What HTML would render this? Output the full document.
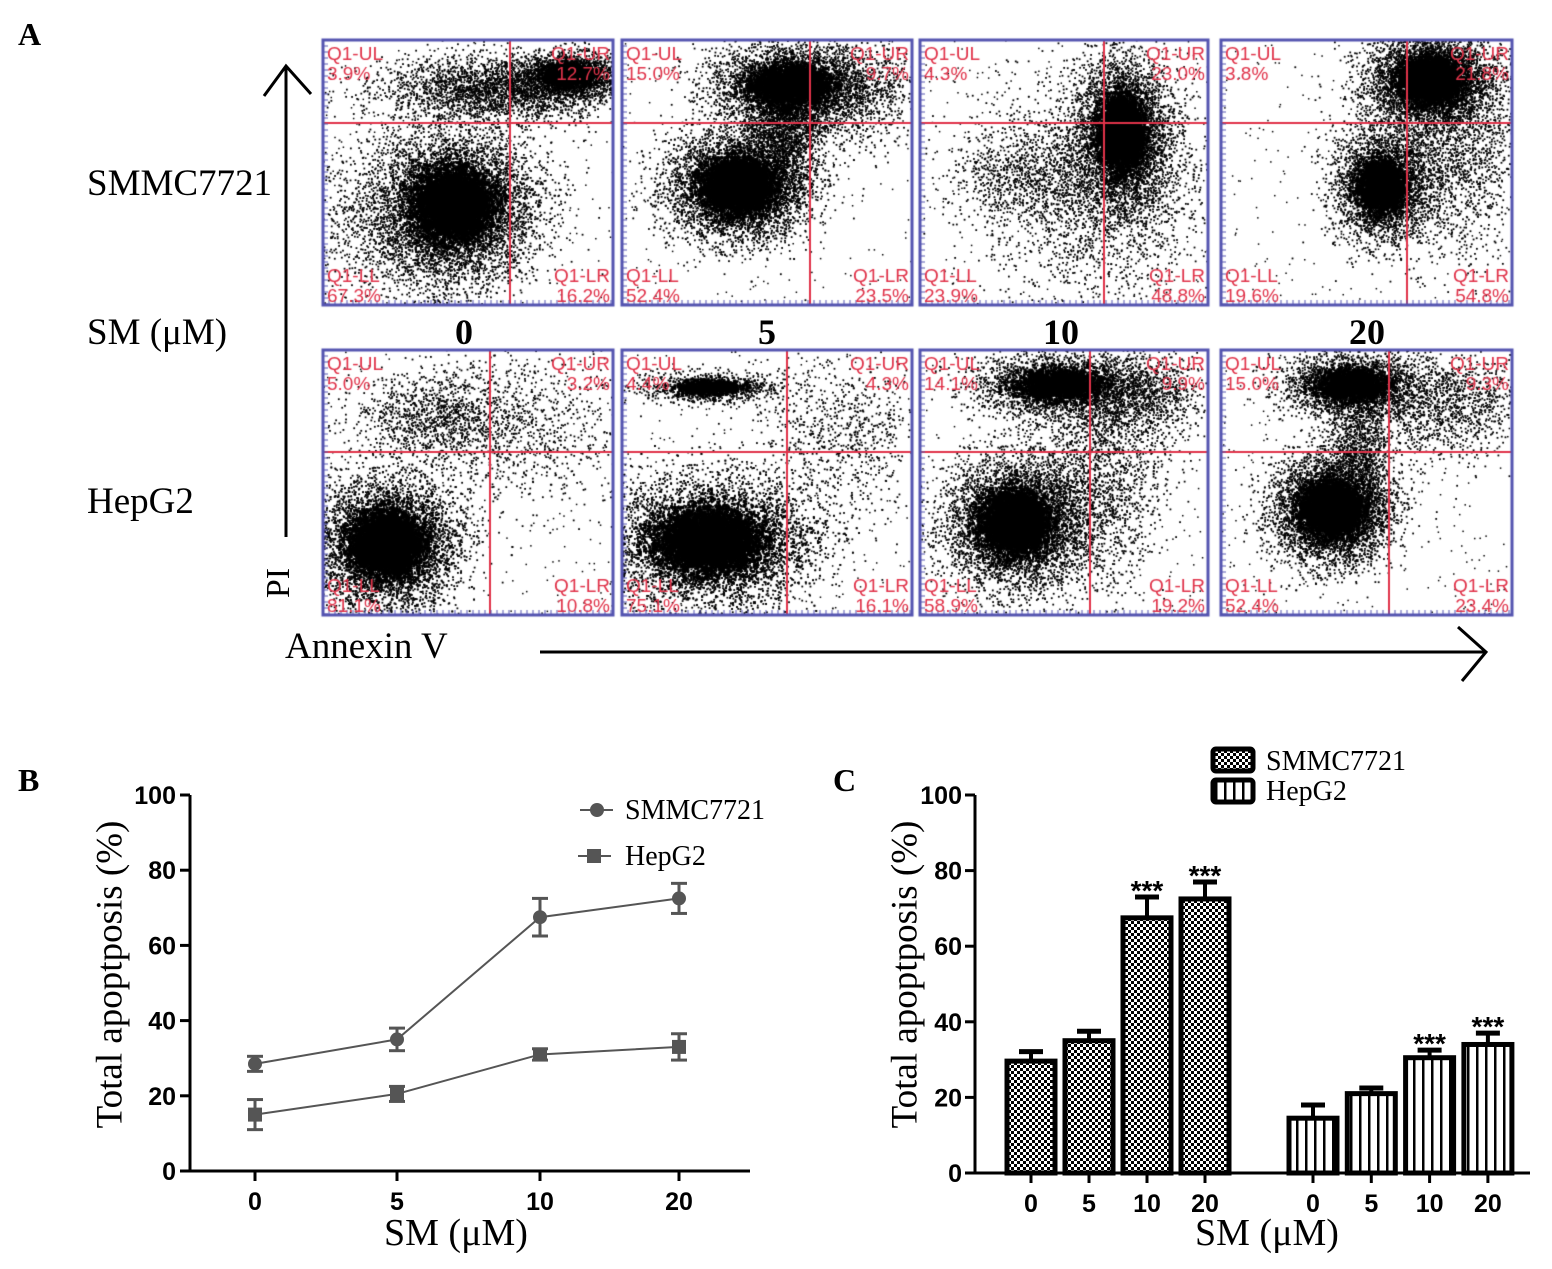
<!DOCTYPE html>
<html><head><meta charset="utf-8">
<style>
body{margin:0;background:#fff;width:1552px;height:1269px;overflow:hidden;position:relative;font-family:"Liberation Serif",serif}
.t{position:absolute;white-space:nowrap;color:#000}
canvas{position:absolute;left:0;top:0}
svg{position:absolute;left:0;top:0}
</style></head><body>
<canvas id="flow" width="1552" height="700"></canvas>
<div class="t" style="left:18px;top:16px;font-size:32px;font-weight:bold">A</div>
<div class="t" style="left:87px;top:162px;font-size:37px">SMMC7721</div>
<div class="t" style="left:87px;top:311px;font-size:37px">SM (μM)</div>
<div class="t" style="left:87px;top:480px;font-size:37px">HepG2</div>
<div class="t" style="left:455px;top:311px;font-size:36px;font-weight:bold">0</div>
<div class="t" style="left:758px;top:311px;font-size:36px;font-weight:bold">5</div>
<div class="t" style="left:1043px;top:311px;font-size:36px;font-weight:bold">10</div>
<div class="t" style="left:1349px;top:311px;font-size:36px;font-weight:bold">20</div>
<div class="t" style="left:264px;top:564px;font-size:34px;transform:rotate(-90deg);transform-origin:center">PI</div>
<div class="t" style="left:285px;top:625px;font-size:37px">Annexin V</div>
<svg width="1552" height="1269">
<g stroke="#000" stroke-width="3" fill="none">
<line x1="286" y1="66" x2="286" y2="537"/><polyline points="264,96 286,66 311,94"/>
<line x1="540" y1="652" x2="1484" y2="652"/><polyline points="1458,627 1486,652 1462,681"/>
</g>
<g id="chartB"></g>
<g id="chartC"></g>
<defs>
<pattern id="chk" width="6" height="6" patternUnits="userSpaceOnUse"><rect width="6" height="6" fill="#fff"/><rect width="3" height="3" fill="#000"/><rect x="3" y="3" width="3" height="3" fill="#000"/></pattern>
<pattern id="vstr" width="9" height="10" patternUnits="userSpaceOnUse"><rect width="9" height="10" fill="#fff"/><rect width="2.5" height="10" fill="#000"/></pattern>
</defs>
</svg>
<div class="t" style="left:18px;top:762px;font-size:32px;font-weight:bold">B</div>
<div class="t" style="left:833px;top:762px;font-size:32px;font-weight:bold">C</div>
<div class="t" style="left:-90px;top:953px;width:400px;text-align:center;font-size:37px;transform:rotate(-90deg)">Total apoptposis (%)</div>
<div class="t" style="left:705px;top:953px;width:400px;text-align:center;font-size:37px;transform:rotate(-90deg)">Total apoptposis (%)</div>
<div class="t" style="left:384px;top:1211px;font-size:38px">SM (μM)</div>
<div class="t" style="left:1195px;top:1211px;font-size:38px">SM (μM)</div>
<script>
// ---------- Flow plots ----------
const cv=document.getElementById('flow'),ctx=cv.getContext('2d');
let seed=12345;function rnd(){seed=(seed*1103515245+12345)%2147483648;return seed/2147483648;}
function gauss(){let u=rnd()||1e-6,v=rnd();return Math.sqrt(-2*Math.log(u))*Math.cos(2*Math.PI*v);}
const plotsX=[[323,613],[622,912],[920,1208],[1221,1512]];
const plotsY=[[40,305],[350,615]];
const hLine=[123,452];
const vLine=[[510,810,1104,1407],[490,787,1090,1389]];
const quadUL=[["3.9%","15.0%","4.3%","3.8%"],["5.0%","4.4%","14.1%","15.0%"]];
const quadUR=[["12.7%","9.7%","23.0%","21.8%"],["3.2%","4.3%","9.9%","9.3%"]];
const quadLL=[["67.3%","52.4%","23.9%","19.6%"],["81.1%","75.1%","58.9%","52.4%"]];
const quadLR=[["16.2%","23.5%","48.8%","54.8%"],["10.8%","16.1%","19.2%","23.4%"]];
const clusters=[
[[[0.45,0.62,0.14,0.14,6000,1],[0.62,0.18,0.2,0.06,3000,0],[0.85,0.13,0.08,0.04,2000,1],[0.3,0.7,0.2,0.15,1500,0]],
 [[0.4,0.55,0.12,0.1,6000,1],[0.58,0.17,0.14,0.08,3500,1],[0.55,0.35,0.06,0.1,1500,0],[0.75,0.2,0.15,0.1,1200,0]],
 [[0.7,0.35,0.08,0.14,4500,1],[0.6,0.55,0.2,0.2,2500,0],[0.35,0.5,0.12,0.08,600,0]],
 [[0.72,0.15,0.1,0.08,5000,1],[0.55,0.55,0.08,0.1,3000,1],[0.75,0.4,0.15,0.2,2500,0]]],
[[[0.22,0.73,0.12,0.12,6500,1],[0.4,0.25,0.15,0.08,1200,0],[0.7,0.3,0.2,0.15,800,0]],
 [[0.3,0.72,0.18,0.12,7000,1],[0.3,0.14,0.12,0.03,900,1],[0.75,0.3,0.15,0.15,800,0]],
 [[0.33,0.65,0.12,0.12,5500,1],[0.48,0.13,0.15,0.06,2500,1],[0.6,0.5,0.12,0.2,1800,0],[0.75,0.17,0.12,0.08,1200,0]],
 [[0.38,0.6,0.1,0.1,5500,1],[0.45,0.13,0.12,0.06,2500,1],[0.47,0.38,0.05,0.12,1000,0],[0.75,0.2,0.15,0.1,1400,0]]]];
for(let r=0;r<2;r++)for(let c=0;c<4;c++){
 const [x0,x1]=plotsX[c],[y0,y1]=plotsY[r],w=x1-x0,h=y1-y0;
 ctx.save();ctx.beginPath();ctx.rect(x0,y0,w,h);ctx.clip();
 ctx.fillStyle='#000';
 for(const [cx,cy,sx,sy,n,core] of clusters[r][c]){
   for(let i=0;i<n;i++){const px=x0+(cx+gauss()*sx)*w,py=y0+(cy+gauss()*sy)*h;ctx.fillRect(px,py,1.8,1.8);}
   if(core){for(let i=0;i<n*0.6;i++){const px=x0+(cx+gauss()*sx*0.45)*w,py=y0+(cy+gauss()*sy*0.45)*h;ctx.fillRect(px-1,py-1,3,3);}}
 }
 for(let i=0;i<250;i++)ctx.fillRect(x0+rnd()*w,y0+rnd()*h,1.5,1.5);
 ctx.restore();
 ctx.strokeStyle='#e0334a';ctx.lineWidth=2;
 ctx.beginPath();ctx.moveTo(x0,hLine[r]);ctx.lineTo(x1,hLine[r]);ctx.moveTo(vLine[r][c],y0);ctx.lineTo(vLine[r][c],y1);ctx.stroke();
 ctx.strokeStyle='#5555b0';ctx.lineWidth=3;ctx.strokeRect(x0,y0,w,h);
 ctx.lineWidth=1;ctx.beginPath();for(let k=0;k<w;k+=6){ctx.moveTo(x0+k,y1);ctx.lineTo(x0+k,y1-5);}for(let k=0;k<h;k+=6){ctx.moveTo(x0,y0+k);ctx.lineTo(x0+5,y0+k);}ctx.stroke();
 ctx.fillStyle='#e0334a';ctx.font='19px "Liberation Sans",sans-serif';
 ctx.textAlign='left';ctx.fillText('Q1-UL',x0+4,y0+20);ctx.fillText(quadUL[r][c],x0+4,y0+40);
 ctx.fillText('Q1-LL',x0+4,y1-23);ctx.fillText(quadLL[r][c],x0+4,y1-3);
 ctx.textAlign='right';ctx.fillText('Q1-UR',x1-3,y0+20);ctx.fillText(quadUR[r][c],x1-3,y0+40);
 ctx.fillText('Q1-LR',x1-3,y1-23);ctx.fillText(quadLR[r][c],x1-3,y1-3);
}
// ---------- Charts ----------
const NS='http://www.w3.org/2000/svg';
function el(tag,attrs,parent){const e=document.createElementNS(NS,tag);for(const k in attrs)e.setAttribute(k,attrs[k]);parent.appendChild(e);return e;}
const doses=["0","5","10","20"];
const yTicks=[0,20,40,60,80,100];
const smmcMean=[28.5,35,67.5,72.5];
const smmcErr=[2,3,5,4];
const hepMean=[15,20.5,31,33];
const hepErr=[4,2,1.5,3.5];
const barSmmc=[29.6,35,67.5,72.5];
const barSmmcErr=[2.5,2.5,5.5,4.5];
const barHep=[14.5,21,30.5,34];
const barHepErr=[3.5,1.5,2,3];
const yB=v=>1171-v*3.76;
const xB=i=>[255,397,540,679][i];
const gB=document.getElementById('chartB');
el('line',{x1:190,y1:yB(100),x2:190,y2:yB(0)+1,stroke:'#000','stroke-width':3},gB);
el('line',{x1:189,y1:yB(0),x2:750,y2:yB(0),stroke:'#000','stroke-width':3},gB);
yTicks.forEach(v=>{el('line',{x1:180,y1:yB(v),x2:190,y2:yB(v),stroke:'#000','stroke-width':3},gB);
 const t=el('text',{x:176,y:yB(v)+9,'text-anchor':'end','font-family':'Liberation Sans,sans-serif','font-weight':'bold','font-size':25},gB);t.textContent=v;
 });
doses.forEach((d,i)=>{el('line',{x1:xB(i),y1:yB(0),x2:xB(i),y2:yB(0)+10,stroke:'#000','stroke-width':3},gB);
 const t=el('text',{x:xB(i),y:yB(0)+39,'text-anchor':'middle','font-family':'Liberation Sans,sans-serif','font-weight':'bold','font-size':25},gB);t.textContent=d;
 });
function series(mean,err,shape,name){
 const pts=mean.map((v,i)=>xB(i)+','+yB(v)).join(' ');
 const pl=el('polyline',{points:pts,fill:'none',stroke:'#555','stroke-width':2},gB);
 mean.forEach((v,i)=>{const x=xB(i);
  el('line',{x1:x,y1:yB(v-err[i]),x2:x,y2:yB(v+err[i]),stroke:'#555','stroke-width':3},gB);
  el('line',{x1:x-8,y1:yB(v+err[i]),x2:x+8,y2:yB(v+err[i]),stroke:'#555','stroke-width':3},gB);
  el('line',{x1:x-8,y1:yB(v-err[i]),x2:x+8,y2:yB(v-err[i]),stroke:'#555','stroke-width':3},gB);
  const m=shape==='c'?el('circle',{cx:x,cy:yB(v),r:7,fill:'#555'},gB):el('rect',{x:x-7,y:yB(v)-7,width:14,height:14,fill:'#555'},gB);
  });
}
series(smmcMean,smmcErr,'c','smmc7721');
series(hepMean,hepErr,'s','hepg2');
el('line',{x1:580,y1:810,x2:613,y2:810,stroke:'#555','stroke-width':2},gB);el('circle',{cx:597,cy:810,r:7,fill:'#555'},gB);
let lt=el('text',{x:625,y:819,'font-family':'Liberation Serif,serif','font-size':28},gB);lt.textContent='SMMC7721';
el('line',{x1:578,y1:856,x2:611,y2:856,stroke:'#555','stroke-width':2},gB);el('rect',{x:587,y:849,width:14,height:14,fill:'#555'},gB);
lt=el('text',{x:625,y:865,'font-family':'Liberation Serif,serif','font-size':28},gB);lt.textContent='HepG2';
// Chart C
const yC=v=>1173-v*3.78;
const xS=i=>1031+i*58, xH=i=>1313+i*58.3;
const gC=document.getElementById('chartC');
el('line',{x1:975,y1:yC(100),x2:975,y2:yC(0)+1,stroke:'#000','stroke-width':3},gC);
el('line',{x1:974,y1:yC(0),x2:1530,y2:yC(0),stroke:'#000','stroke-width':3},gC);
yTicks.forEach(v=>{el('line',{x1:965,y1:yC(v),x2:975,y2:yC(v),stroke:'#000','stroke-width':3},gC);
 const t=el('text',{x:962,y:yC(v)+9,'text-anchor':'end','font-family':'Liberation Sans,sans-serif','font-weight':'bold','font-size':25},gC);t.textContent=v;
 });
function bars(vals,errs,xf,fill,name,stars){
 vals.forEach((v,i)=>{const x=xf(i);
  el('line',{x1:x,y1:yC(v),x2:x,y2:yC(v+errs[i]),stroke:'#000','stroke-width':4},gC);
  el('line',{x1:x-12,y1:yC(v+errs[i]),x2:x+12,y2:yC(v+errs[i]),stroke:'#000','stroke-width':5},gC);
  const r=el('rect',{x:x-24,y:yC(v),width:48,height:yC(0)-yC(v),fill:fill,stroke:'#000','stroke-width':5},gC);
  
  el('line',{x1:x,y1:yC(0),x2:x,y2:yC(0)+10,stroke:'#000','stroke-width':3},gC);
  const t=el('text',{x:x,y:yC(0)+39,'text-anchor':'middle','font-family':'Liberation Sans,sans-serif','font-weight':'bold','font-size':25},gC);t.textContent=doses[i];
  
  if(stars[i]){const s=el('text',{x:x,y:yC(v+errs[i])+3,'text-anchor':'middle','font-family':'Liberation Sans,sans-serif','font-weight':'bold','font-size':28},gC);s.textContent='***';}
 });
}
bars(barSmmc,barSmmcErr,xS,'url(#chk)','smmc7721',[0,0,1,1]);
bars(barHep,barHepErr,xH,'url(#vstr)','hepg2',[0,0,1,1]);
el('rect',{x:1213,y:749,width:40,height:22,rx:3,fill:'url(#chk)',stroke:'#000','stroke-width':5},gC);
lt=el('text',{x:1266,y:770,'font-family':'Liberation Serif,serif','font-size':28},gC);lt.textContent='SMMC7721';
el('rect',{x:1213,y:780,width:40,height:22,rx:3,fill:'url(#vstr)',stroke:'#000','stroke-width':5},gC);
lt=el('text',{x:1266,y:800,'font-family':'Liberation Serif,serif','font-size':28},gC);lt.textContent='HepG2';
</script>
</body></html>
